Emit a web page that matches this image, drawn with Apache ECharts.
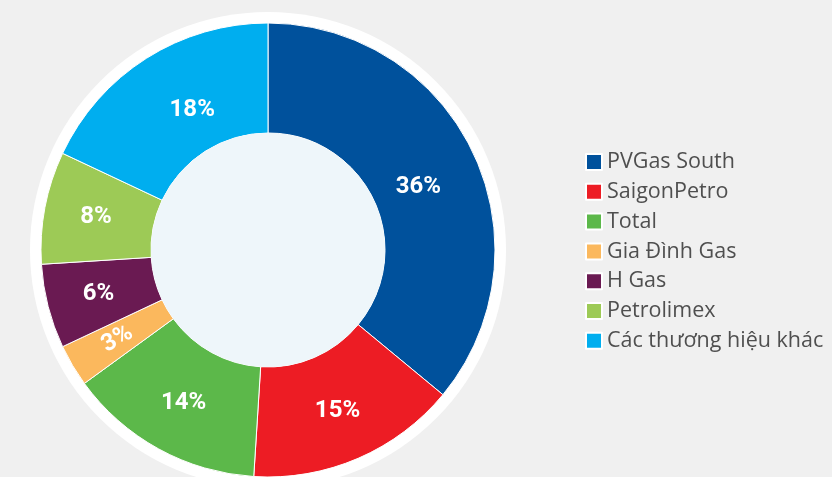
<!DOCTYPE html>
<html><head><meta charset="utf-8">
<script src="https://cdn.jsdelivr.net/npm/echarts@6/dist/echarts.min.js"></script>
<style>html,body{margin:0;padding:0;background:#f0f0f0}#c{width:832px;height:477px}</style>
</head><body><div id="c"></div>
<script>
const categories = ["PVGas South","SaigonPetro","Total","Gia Đình Gas","H Gas","Petrolimex","Các thương hiệu khác"];
const shares = [36,15,14,3,6,8,18];
const colors = ["#00519c","#ed1c24","#5cb84a","#fbb85d","#6a1a52","#9dca56","#00aeef"];

const labelTweaks = {0:{offset:[-8,12]}, 3:{rotate:30}, 6:{offset:[18,8]}};

const chart = echarts.init(document.getElementById('c'), null, {renderer:'canvas'});
const center = [268,250];
chart.setOption({
  backgroundColor:'#f0f0f0',
  animation:false,
  legend:{
    orient:'vertical', left:580, top:146,
    data:categories, icon:'rect', itemWidth:16, itemHeight:16, itemGap:7.8,
    textStyle:{fontFamily:'"Open Sans", sans-serif', fontSize:21.5, color:'#4f4f4f', lineHeight:20},
    selectedMode:false
  },
  series:[
    {type:'pie', silent:true, radius:[0,238], center:center, z:1,
     label:{show:false}, labelLine:{show:false},
     data:[{value:1, name:'_ring', itemStyle:{color:'#ffffff'}}]},
    {type:'pie', silent:true, radius:[0,117], center:center, z:3,
     label:{show:false}, labelLine:{show:false},
     data:[{value:1, name:'_inner', itemStyle:{color:'#eef6fa'}}]},
    {type:'pie', radius:[117,227], center:center, startAngle:90, clockwise:true, z:2,
     itemStyle:{borderColor:'#ffffff', borderWidth:1},
     label:{show:true, position:'inside', formatter:'{c}%', color:'#ffffff',
            fontFamily:'Roboto, sans-serif',
            fontWeight:'bold', fontSize:24},
     labelLine:{show:false},
     data:categories.map((n,i)=>({name:n, value:shares[i], itemStyle:{color:colors[i]},
        label: labelTweaks[i]}))}
  ]
});
</script></body></html>
